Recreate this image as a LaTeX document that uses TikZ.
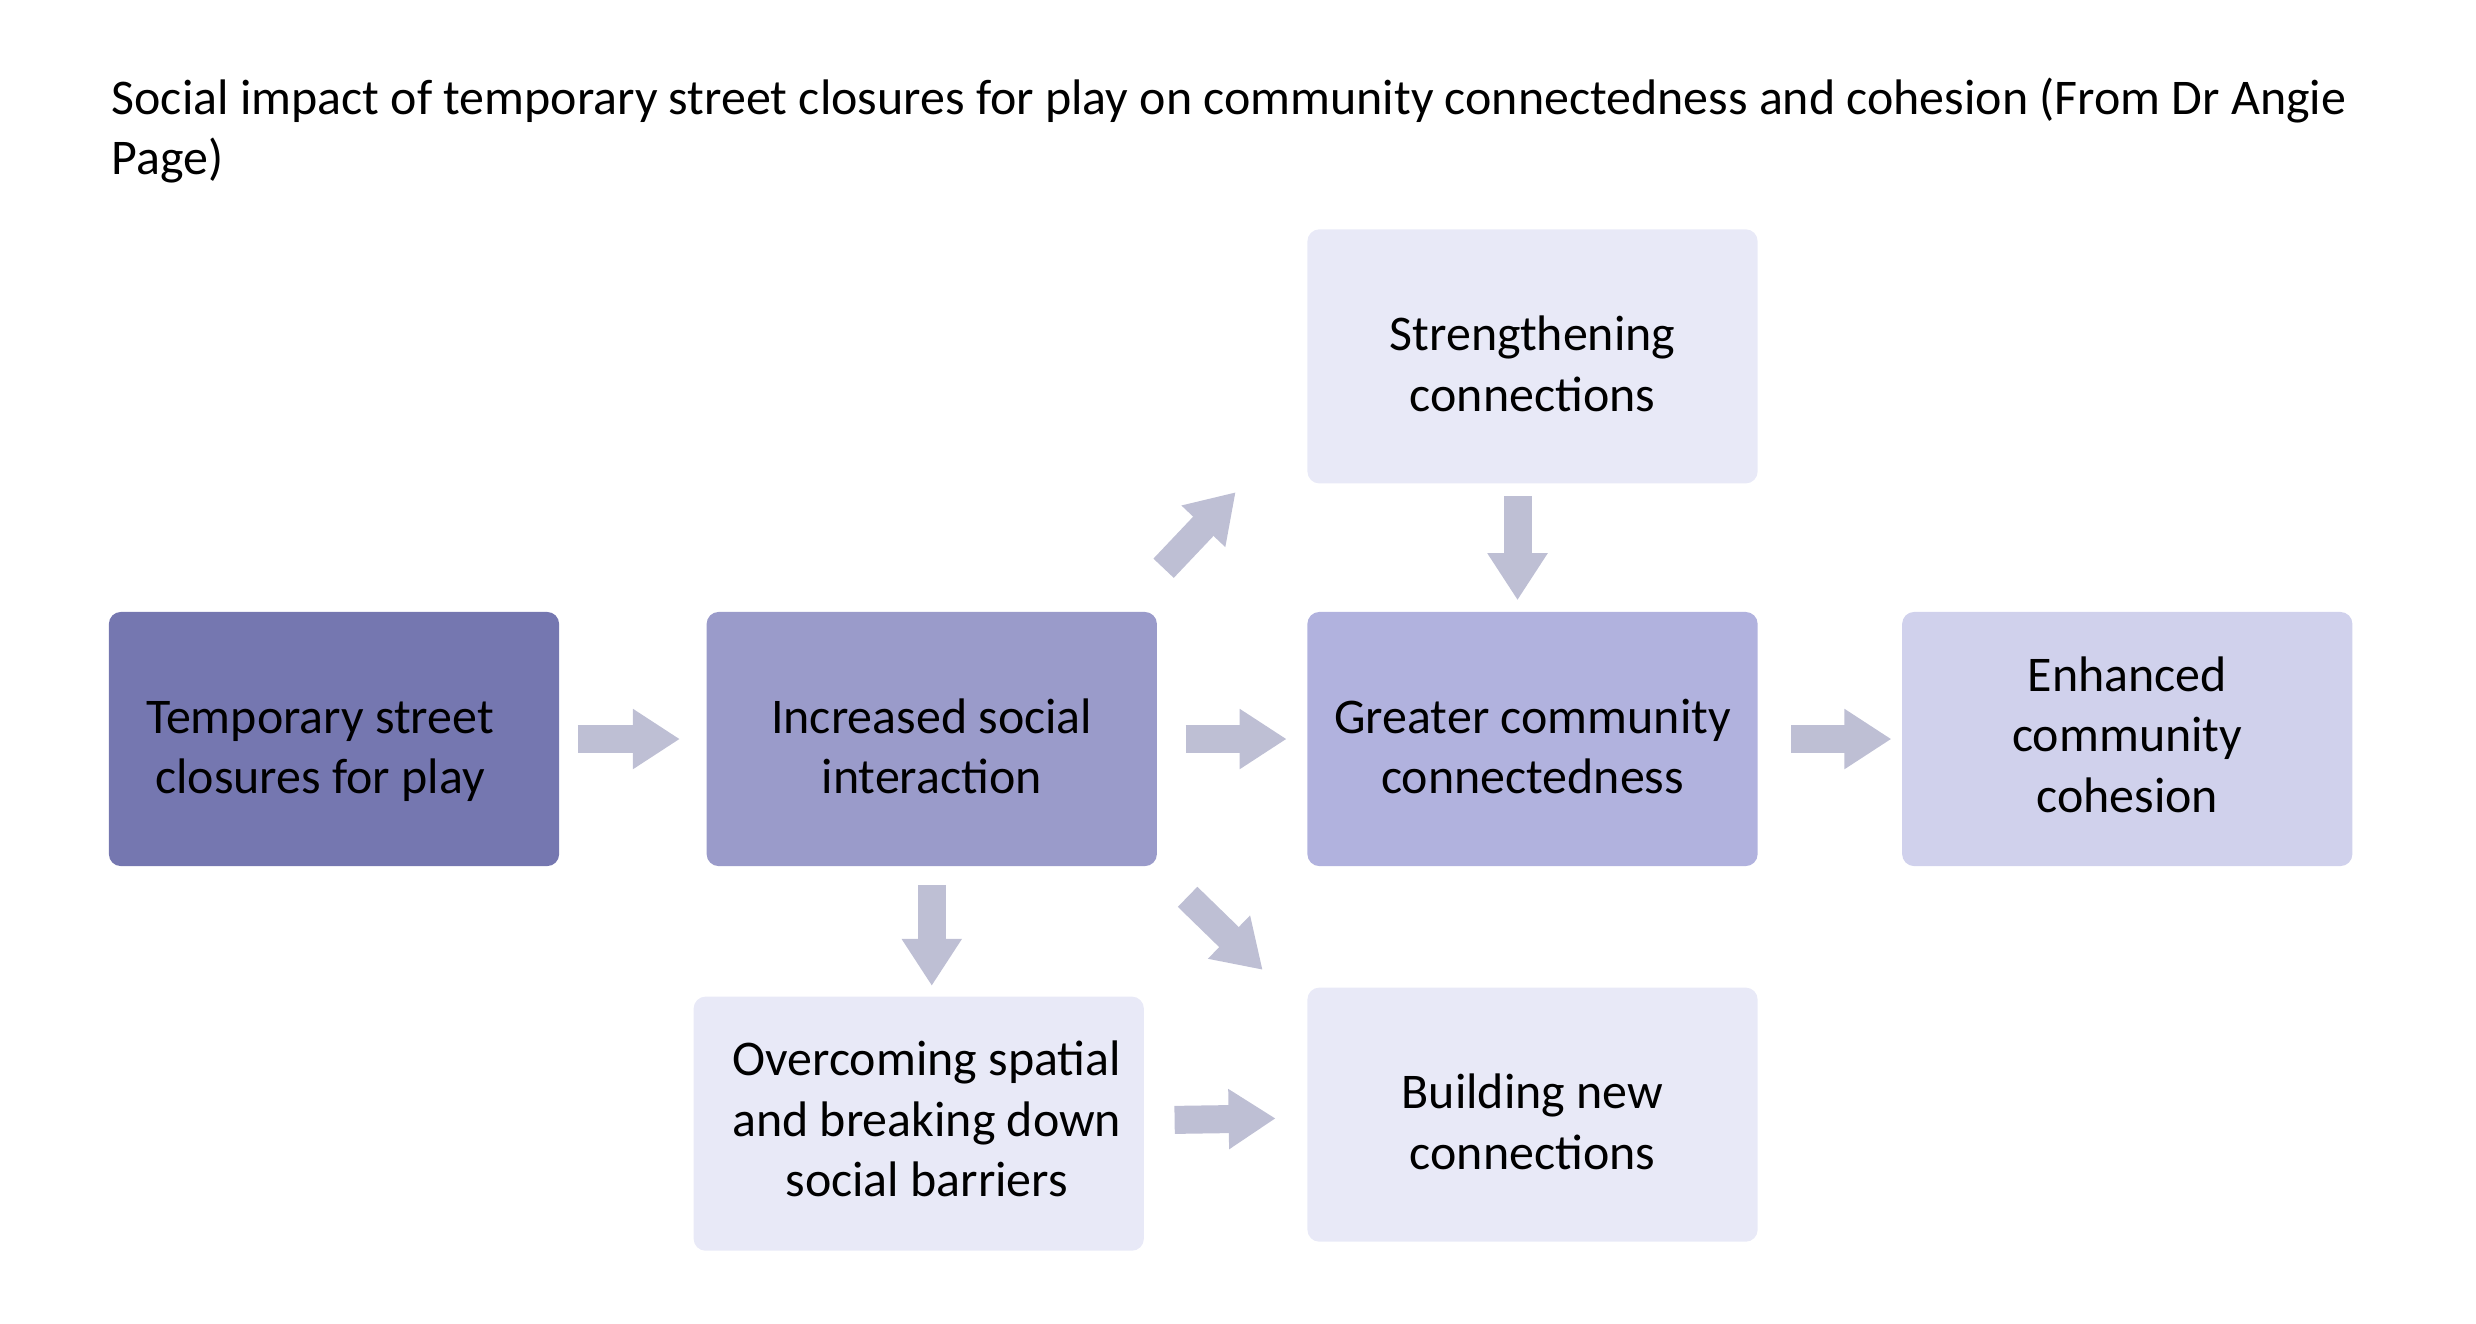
\documentclass[tikz,border=0pt]{standalone}
\usepackage{fontspec}
\setmainfont{Carlito}
\usetikzlibrary{positioning, arrows.meta}
\definecolor{boxdark}{HTML}{7577B0}
\definecolor{boxmid}{HTML}{9A9BCA}
\definecolor{boxgcc}{HTML}{B1B2DE}
\definecolor{boxenh}{HTML}{D0D1EC}
\definecolor{boxlight}{HTML}{E8E9F7}
\definecolor{arrowgrey}{HTML}{BEBFD4}
\tikzset{box/.style={rectangle, rounded corners=1.2mm, minimum width=4.5cm, minimum height=2.54cm, align=center, inner sep=0pt},
  twoline/.style={box, execute at begin node={\rule[-3.2pt]{0pt}{37.5pt}}},
  threeline/.style={box, execute at begin node={\rule[-2.7pt]{0pt}{2.7pt}}},
  fat/.style={draw=arrowgrey, line width=2.8mm, -{Triangle[length=4.7mm, width=5.7mm]}}}

\begin{document}
\begin{tikzpicture}[x=0.01cm, y=-0.01cm, font=\fontsize{14.2}{17.2}\selectfont]
\useasboundingbox (0,0) rectangle (2476,1323);

\node[anchor=north west, align=left, inner sep=0pt] (title) at (111,77) {Social impact of temporary street closures for play on community connectedness and cohesion (From Dr Angie\\Page)};

\node[twoline, fill=boxdark] (tsc) at (334,739) {Temporary street\hspace*{0.28cm}\\closures for play\hspace*{0.28cm}};
\node[twoline, fill=boxmid, right=1.46cm of tsc] (isi) {Increased social\\interaction};
\node[twoline, fill=boxgcc, right=1.49cm of isi] (gcc) {Greater community\\connectedness};
\node[twoline, fill=boxlight, above=1.27cm of gcc] (str) {Strengthening\\connections};
\node[threeline, fill=boxenh, right=1.43cm of gcc] (enh) {Enhanced\\community\\cohesion};
\node[twoline, fill=boxlight, below=1.2cm of gcc] (bnc) {Building new\\connections};
\node[threeline, fill=boxlight, below=1.29cm of isi, xshift=-0.13cm] (ocb) {\hspace*{0.16cm}Overcoming spatial\\\hspace*{0.16cm}and breaking down\\\hspace*{0.16cm}social barriers};

\draw[fat, shorten <=1.8mm, shorten >=2.6mm] (tsc) -- (isi);
\draw[fat, shorten <=2.8mm, shorten >=2mm] (isi) -- (gcc);
\draw[fat, shorten <=3.3mm, shorten >=1mm] (gcc) -- (enh);
\draw[fat, shorten <=3mm, shorten >=3.1mm] (ocb) -- (bnc);
\draw[fat, shorten <=1.8mm, shorten >=1mm] (isi.south) -- (isi.south |- ocb.north);
\draw[fat, shorten <=1.2mm, shorten >=1.1mm] ([xshift=-1.5mm]str.south) -- ([xshift=-1.5mm]gcc.north);
\draw[fat] ([shift={(6,-43)}]isi.north east) -- ([shift={(-71,8)}]str.south west);
\draw[fat] ([shift={(30,30)}]isi.south east) -- ([shift={(-44,-17)}]bnc.north west);

\end{tikzpicture}
\end{document}
